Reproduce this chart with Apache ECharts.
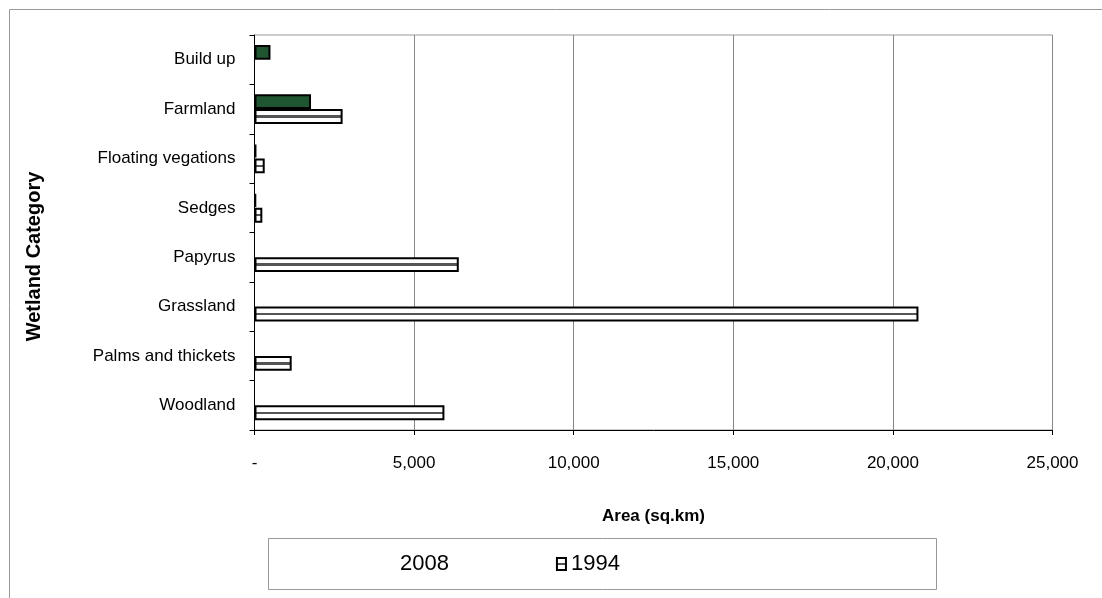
<!DOCTYPE html>
<html><head><meta charset="utf-8">
<script src="https://cdn.jsdelivr.net/npm/echarts@6/dist/echarts.min.js"></script>
<style>html,body{margin:0;padding:0;background:#fff}#c{width:1102px;height:598px}</style>
</head><body><div id="c"></div>
<script>
const categories = ['Woodland','Palms and thickets','Grassland','Papyrus','Sedges','Floating vegations','Farmland','Build up'];
const values2008 = [null, null, null, null, 50, 60, 1770, 500];
const values1994 = [5950, 1165, 20800, 6400, 245, 320, 2760, null];
const xTicks = [0, 5000, 10000, 15000, 20000, 25000];

const stripe = new echarts.graphic.LinearGradient(0,0,0,1,[
  {offset:0,color:'#fff'},{offset:0.42,color:'#fff'},{offset:0.42,color:'#555'},
  {offset:0.58,color:'#555'},{offset:0.58,color:'#fff'},{offset:1,color:'#fff'}]);

const FF = 'Liberation Sans, Arial, sans-serif';
const chart = echarts.init(document.getElementById('c'));
chart.setOption({
  animation:false,
  textStyle:{fontFamily:FF},
  graphic:[
    {type:'rect',shape:{x:9.5,y:9.5,width:1100,height:600},style:{fill:'none',stroke:'#999',lineWidth:1},z:-1},
    {type:'rect',shape:{x:268.5,y:538.5,width:668,height:51},style:{fill:'#fff',stroke:'#999',lineWidth:1},z:0}
  ],
  grid:{left:254.5,top:35,right:49.5,bottom:168,show:true,borderColor:'#999',borderWidth:1},
  legend:{
    data:[{name:'2008',itemStyle:{opacity:0}},{name:'1994',icon:'rect'}],
    left:380,top:548,itemGap:107,itemWidth:9,itemHeight:12,itemTextGap:4,
    textStyle:{fontSize:22,color:'#000',fontFamily:FF},
    z:5
  },
  xAxis:{
    type:'value',min:xTicks[0],max:xTicks[xTicks.length-1],interval:xTicks[1]-xTicks[0],
    name:'Area (sq.km)',nameLocation:'middle',nameGap:78,
    nameTextStyle:{fontSize:17,fontWeight:'bold',color:'#000'},
    axisLine:{show:true,lineStyle:{color:'#000',width:1}},
    axisTick:{show:true,length:5,lineStyle:{color:'#000'}},
    axisLabel:{fontSize:17,color:'#000',margin:25,formatter:v=>v===0?'-':v.toLocaleString('en-US')},
    splitLine:{show:true,lineStyle:{color:'#888',width:1}}
  },
  yAxis:{
    type:'category',data:categories,
    name:'Wetland Category',nameLocation:'middle',nameGap:210,nameRotate:90,
    nameTextStyle:{fontSize:20,fontWeight:'bold',color:'#000',padding:[0,48,0,0]},
    axisLine:{show:true,lineStyle:{color:'#000',width:1}},
    axisTick:{show:true,length:5,lineStyle:{color:'#000'}},
    axisLabel:{fontSize:17,color:'#000',margin:19}
  },
  series:[
    {name:'2008',type:'bar',data:values2008,barGap:'0%',barCategoryGap:'40%',
     itemStyle:{color:'#1f5631',borderColor:'#000',borderWidth:2}},
    {name:'1994',type:'bar',data:values1994,barGap:'0%',barCategoryGap:'40%',
     itemStyle:{color:stripe,borderColor:'#000',borderWidth:2}}
  ]
});
</script></body></html>
